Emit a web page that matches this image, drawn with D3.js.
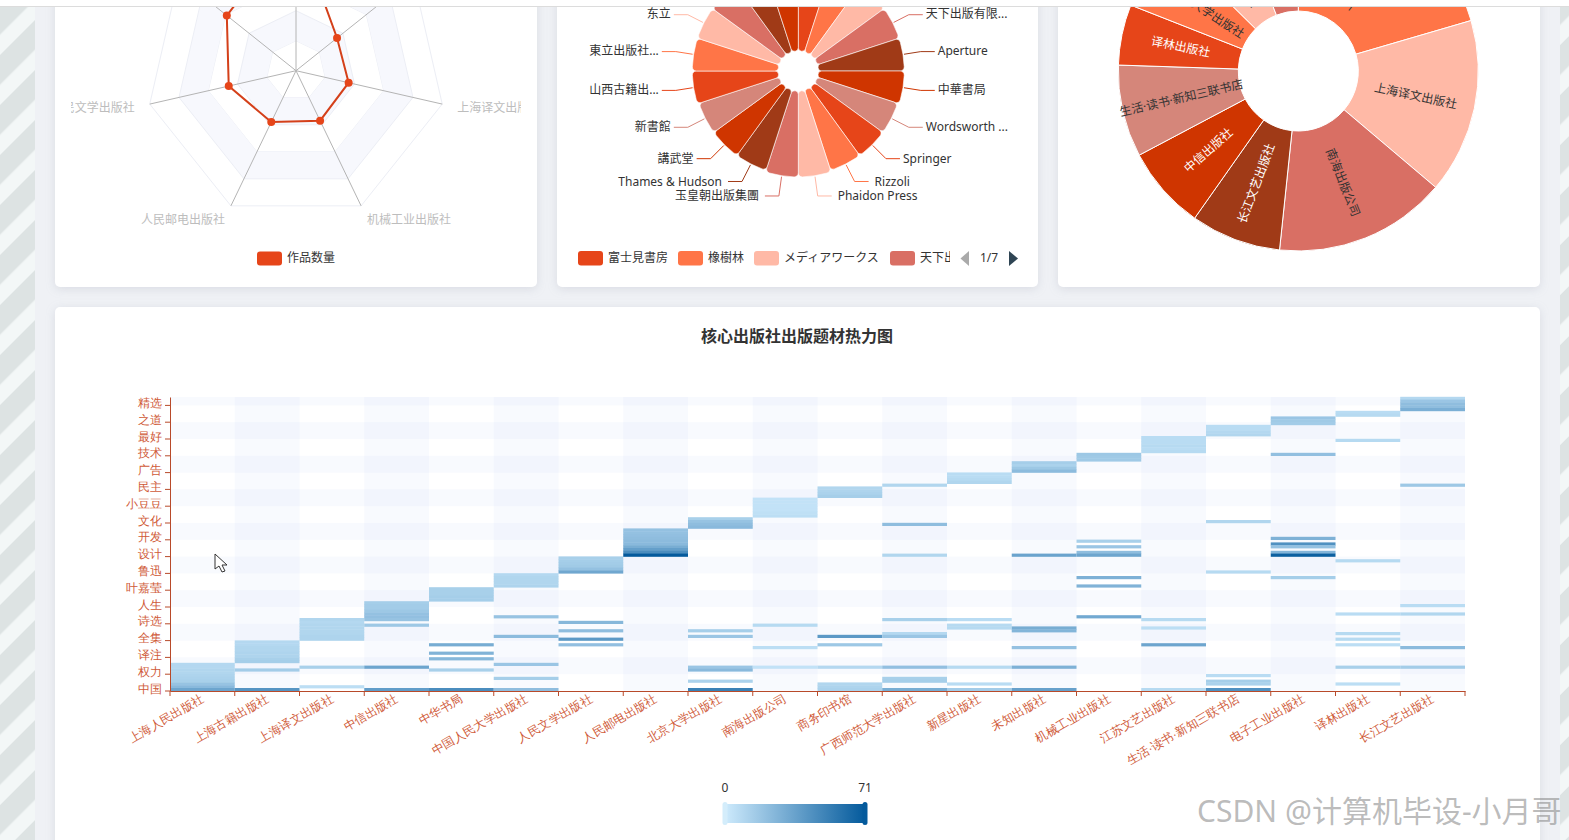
<!DOCTYPE html>
<html>
<head>
<meta charset="utf-8">
<script src="https://cdn.jsdelivr.net/npm/d3@7"></script>
<style>
    html, body { margin: 0; padding: 0; background: #eff1f5; overflow: hidden; }
    svg { display: block; font-family: "Noto Sans", "Noto Sans CJK SC", sans-serif; }
    .card { fill: #fff; filter: drop-shadow(0 2px 5px rgba(120, 130, 150, 0.18)); }
</style>
</head>
<body>
<svg id="page" width="1569" height="840"></svg>
<script>
'use strict';

// radar
const radarNames = ['', '', '上海译文出版社', '机械工业出版社', '人民邮电出版社', '人民文学出版社', ''];
const radarValues = [97, 35, 36, 37, 38, 46, 59];

// rose (nightingale) pie
const roseNames = ['', '', '', '天下出版有限...', 'Aperture', '中華書局', 'Wordsworth ...', 'Springer', 'Rizzoli',
    'Phaidon Press', '玉皇朝出版集團', 'Thames & Hudson', '講武堂', '新書館', '山西古籍出...', '東立出版社...', '东立', '', '', ''];
const roseValues = [53, 53, 53, 53, 53, 53, 52, 52, 52, 53, 53, 52, 52, 52, 53, 53, 53, 53, 53, 53];
const roseLegend = ['富士見書房', '橡樹林', 'メディアワークス', '天下出版有限公司'];

// donut
const pieNames = ['上海人民出版社', '上海译文出版社', '南海出版公司', '长江文艺出版社', '中信出版社',
    '生活·读书·新知三联书店', '译林出版社', '中国人民大学出版社', '上海古籍出版社', '中华书局'];
const pieValues = [369, 283, 279, 146, 135, 149, 98, 116, 120, 107];

const palette = ['#e64519', '#ff7547', '#ffb9a6', '#d96f64', '#a03a17', '#cf3500', '#d5867a'];

// heatmap
const publishers = ['上海人民出版社', '上海古籍出版社', '上海译文出版社', '中信出版社', '中华书局', '中国人民大学出版社',
    '人民文学出版社', '人民邮电出版社', '北京大学出版社', '南海出版公司', '商务印书馆', '广西师范大学出版社', '新星出版社',
    '未知出版社', '机械工业出版社', '江苏文艺出版社', '生活·读书·新知三联书店', '电子工业出版社', '译林出版社', '长江文艺出版社'];
const topicLabels = ['中国', '权力', '译注', '全集', '诗选', '人生', '叶嘉莹', '鲁迅', '设计', '开发', '文化', '小豆豆',
    '民主', '广告', '技术', '最好', '之道', '精选'];
const topicCount = 105;
const labelEvery = 6;
const heatMax = 71;

// [topic row, count] for each publisher
const shanghaiRenmin = [[9, 9], [8, 9], [7, 10], [6, 10], [5, 11], [4, 12], [3, 13], [2, 19], [1, 24], [0, 34]];
const shanghaiGuji = [[17, 9], [16, 9], [15, 10], [14, 10], [13, 11], [12, 11], [11, 13], [10, 14], [7, 15], [0, 42]];
const shanghaiYiwen = [[25, 10], [24, 9], [23, 10], [22, 10], [21, 10], [20, 10], [19, 11], [18, 11], [8, 13], [1, 6]];
const zhongxin = [[31, 14], [30, 15], [29, 15], [28, 17], [27, 20], [26, 21], [25, 19], [23, 17], [8, 34], [0, 38]];
const zhonghua = [[36, 13], [35, 13], [34, 13], [33, 14], [32, 14], [16, 30], [13, 27], [11, 25], [7, 13], [0, 46]];
const renda = [[41, 9], [40, 10], [39, 10], [38, 10], [37, 11], [26, 19], [19, 23], [9, 18], [4, 14], [0, 22]];
const renwen = [[47, 13], [46, 14], [45, 15], [44, 16], [43, 20], [42, 33], [24, 25], [21, 22], [18, 40], [16, 21]];
const youdian = [[57, 20], [56, 20], [55, 21], [54, 22], [53, 23], [52, 24], [51, 30], [50, 37], [49, 46], [48, 71]];
const beida = [[61, 13], [60, 19], [59, 22], [58, 24], [21, 14], [19, 18], [8, 18], [7, 24], [3, 12], [0, 52]];
const nanhai = [[68, 4], [67, 4], [66, 4], [65, 4], [64, 4], [63, 5], [62, 6], [23, 8], [15, 6], [8, 4]];
const shangwu = [[72, 10], [71, 11], [70, 12], [69, 14], [19, 40], [16, 17], [8, 9], [2, 10], [1, 11], [0, 12]];
const guangxi = [[73, 10], [59, 22], [48, 10], [25, 13], [20, 9], [19, 18], [8, 21], [4, 13], [3, 14], [0, 30]];
const xinxing = [[77, 7], [76, 7], [75, 8], [74, 10], [25, 7], [23, 8], [22, 8], [8, 8], [2, 7], [0, 15]];
const weizhi = [[81, 14], [80, 12], [79, 17], [78, 23], [48, 35], [22, 30], [21, 26], [15, 20], [8, 28], [0, 36]];
const jixie = [[84, 17], [83, 16], [82, 16], [53, 13], [51, 18], [49, 22], [48, 34], [40, 28], [37, 27], [26, 32]];
const jiangsu = [[90, 7], [89, 7], [88, 7], [87, 8], [86, 7], [85, 8], [25, 8], [22, 6], [16, 34], [0, 8]];
const sanlian = [[94, 7], [93, 7], [92, 9], [91, 10], [60, 10], [42, 8], [5, 7], [3, 14], [2, 12], [0, 44]];
const dianzi = [[97, 18], [96, 16], [95, 15], [84, 21], [54, 28], [52, 44], [51, 20], [49, 26], [48, 68], [40, 14]];
const yilin = [[99, 7], [98, 8], [89, 8], [46, 8], [27, 7], [20, 8], [18, 8], [16, 6], [8, 13], [2, 6]];
const changjiang = [[104, 9], [103, 18], [102, 22], [101, 22], [100, 29], [73, 17], [30, 7], [27, 10], [15, 23], [8, 15]];
const heatSeries = [shanghaiRenmin, shanghaiGuji, shanghaiYiwen, zhongxin, zhonghua, renda, renwen, youdian, beida, nanhai,
    shangwu, guangxi, xinxing, weizhi, jixie, jiangsu, sanlian, dianzi, yilin, changjiang];

const svg = d3.select('#page');
const axisColor = '#b84a2a';
const labelColor = '#cf5a38';

drawPage();
drawRadar();
drawRose();
drawDonut();
drawHeatmap();
drawOverlay();

function drawPage() {
    const defs = svg.append('defs');
    const stripes = defs.append('pattern')
        .attr('id', 'stripes')
        .attr('patternUnits', 'userSpaceOnUse')
        .attr('width', 35.36)
        .attr('height', 35.36)
        .attr('patternTransform', 'translate(0 5) rotate(-45)');
    stripes.append('rect').attr('width', 35.36).attr('height', 35.36).attr('fill', '#f3f7f7');
    stripes.append('rect').attr('width', 35.36).attr('height', 21).attr('fill', '#dde3e3');

    svg.append('rect').attr('width', 35).attr('height', 840).attr('fill', 'url(#stripes)');
    svg.append('rect').attr('x', 1560).attr('width', 9).attr('height', 840).attr('fill', 'url(#stripes)');

    const cards = [[55, -40, 482, 327], [557, -40, 481, 327], [1058, -40, 482, 327], [55, 307, 1485, 560]];
    svg.selectAll('rect.card')
        .data(cards)
        .join('rect')
        .attr('class', 'card')
        .attr('x', d => d[0])
        .attr('y', d => d[1])
        .attr('width', d => d[2])
        .attr('height', d => d[3])
        .attr('rx', 5);
}

function drawRadar() {
    const center = [296, 70.7];
    const outer = 150;
    const splits = 5;
    const g = svg.append('g').attr('transform', `translate(${center})`);
    const angle = i => i * 2 * Math.PI / radarNames.length;
    const radius = d3.scaleLinear().domain([0, 100]).range([0, outer]);

    const ring = r => d3.lineRadial()
        .angle((d, i) => angle(i))
        .radius(r)
        .curve(d3.curveLinearClosed)(radarNames);

    d3.range(splits).forEach(i => {
        const inner = outer * i / splits;
        const out = outer * (i + 1) / splits;
        if (i % 2 === 1) {
            g.append('path')
                .attr('d', ring(out) + ring(inner))
                .attr('fill', '#f7f8fd')
                .attr('fill-rule', 'evenodd');
        }
        g.append('path')
            .attr('d', ring(out))
            .attr('fill', 'none')
            .attr('stroke', '#eceef5');
    });

    radarNames.forEach((name, i) => {
        const end = d3.pointRadial(angle(i), outer);
        g.append('line')
            .attr('x2', end[0])
            .attr('y2', end[1])
            .attr('stroke', '#b4b4b4');
    });

    const line = d3.lineRadial()
        .angle((d, i) => angle(i))
        .radius(d => radius(d))
        .curve(d3.curveLinearClosed);

    g.append('path')
        .attr('d', line(radarValues))
        .attr('fill', 'none')
        .attr('stroke', '#d4401a')
        .attr('stroke-width', 2);

    g.selectAll('circle')
        .data(radarValues)
        .join('circle')
        .attr('cx', (d, i) => d3.pointRadial(angle(i), radius(d))[0])
        .attr('cy', (d, i) => d3.pointRadial(angle(i), radius(d))[1])
        .attr('r', 4)
        .attr('fill', '#e64519');

    // the axis names are cut at 64px wide by the chart
    svg.select('defs').append('clipPath')
        .attr('id', 'radar-names')
        .append('rect')
        .attr('x', 71)
        .attr('y', 0)
        .attr('width', 450)
        .attr('height', 240);

    const names = svg.append('g').attr('clip-path', 'url(#radar-names)');
    radarNames.forEach((name, i) => {
        if (!name) return;
        const end = d3.pointRadial(angle(i), outer);
        const right = end[0] > 0;
        const low = i === 3 || i === 4;
        names.append('text')
            .attr('x', center[0] + end[0] + (low ? (right ? 6 : -6) : (right ? 15 : -15)))
            .attr('y', center[1] + end[1] + (low ? 14 : 4))
            .attr('dy', '0.35em')
            .attr('text-anchor', right ? 'start' : 'end')
            .attr('font-size', 12)
            .attr('fill', '#bdbdbd')
            .text(name);
    });

    svg.append('rect')
        .attr('x', 257).attr('y', 251.5)
        .attr('width', 25).attr('height', 14).attr('rx', 3)
        .attr('fill', '#e64519');
    svg.append('text')
        .attr('x', 287).attr('y', 257.5)
        .attr('dy', '0.35em')
        .attr('font-size', 12)
        .attr('fill', '#333')
        .text('作品数量');
}

function drawRose() {
    const center = [798.3, 71];
    const g = svg.append('g').attr('transform', `translate(${center})`);
    const radius = d3.scaleLinear().domain([0, 53]).range([20, 106]);
    const slices = d3.pie().sort(null).value(() => 1)(roseValues);
    const arc = d3.arc()
        .innerRadius(20)
        .outerRadius(d => radius(d.data))
        .cornerRadius(4);

    g.selectAll('path.slice')
        .data(slices)
        .join('path')
        .attr('class', 'slice')
        .attr('d', arc)
        .attr('fill', (d, i) => palette[i % palette.length])
        .attr('stroke', '#fff')
        .attr('stroke-width', 0.6);

    slices.forEach((d, i) => {
        if (!roseNames[i]) return;
        const mid = (d.startAngle + d.endAngle) / 2;
        const from = d3.pointRadial(mid, radius(d.data) + 1);
        const elbow = d3.pointRadial(mid, 124);
        const side = elbow[0] > 0 ? 1 : -1;
        // the two labels at the very bottom get pushed down a little
        const bottomShift = Math.abs(elbow[0]) < 30 ? 2.5 : 0;
        // labels in the lower half sit closer to their line, and the bottom ones further out
        const textY = elbow[1] + bottomShift - (elbow[1] > 40 ? 0 : 1);
        const textX = elbow[0] + side * (Math.abs(elbow[0]) < 60 ? 20 : 17);
        const y = elbow[1] + bottomShift;
        g.append('path')
            .attr('d', d3.line()([from, [elbow[0], y], [elbow[0] + side * 14, y]]))
            .attr('fill', 'none')
            .attr('stroke', palette[i % palette.length]);
        g.append('text')
            .attr('x', textX)
            .attr('y', textY)
            .attr('dy', '0.35em')
            .attr('text-anchor', side > 0 ? 'start' : 'end')
            .attr('font-size', 12)
            .attr('fill', '#333')
            .text(roseNames[i]);
    });

    // legend, clipped by its scroll area
    svg.select('defs').append('clipPath')
        .attr('id', 'rose-legend')
        .append('rect')
        .attr('x', 570)
        .attr('y', 240)
        .attr('width', 380)
        .attr('height', 40);

    const legendX = [578, 678, 754, 890];
    const legend = svg.append('g').attr('clip-path', 'url(#rose-legend)');
    roseLegend.forEach((name, i) => {
        legend.append('rect')
            .attr('x', legendX[i]).attr('y', 251)
            .attr('width', 25).attr('height', 14.5).attr('rx', 3)
            .attr('fill', palette[i % palette.length]);
        legend.append('text')
            .attr('x', legendX[i] + 30).attr('y', 257.5)
            .attr('dy', '0.35em')
            .attr('font-size', 12)
            .attr('fill', '#333')
            .text(name);
    });

    svg.append('path').attr('d', 'M969,251 L969,266 L960.5,258.5 Z').attr('fill', '#aaa');
    svg.append('text')
        .attr('x', 989).attr('y', 257.5)
        .attr('dy', '0.35em')
        .attr('text-anchor', 'middle')
        .attr('font-size', 12)
        .attr('fill', '#333')
        .text('1/7');
    svg.append('path').attr('d', 'M1009,251 L1009,266 L1018,258.5 Z').attr('fill', '#2f4554');
}

function drawDonut() {
    const center = [1298.3, 71];
    const g = svg.append('g').attr('transform', `translate(${center})`);
    const arc = d3.arc().innerRadius(60).outerRadius(180);
    const slices = d3.pie().sort(null).value(d => d)(pieValues);
    const colorAt = i => palette[(i + 1) % palette.length];
    const darkSlice = ['#e64519', '#a03a17', '#cf3500'];

    g.selectAll('path')
        .data(slices)
        .join('path')
        .attr('d', arc)
        .attr('fill', (d, i) => colorAt(i))
        .attr('stroke', '#fff')
        .attr('stroke-width', 1);

    g.selectAll('text')
        .data(slices)
        .join('text')
        .attr('transform', d => {
            const mid = (d.startAngle + d.endAngle) / 2;
            const deg = mid * 180 / Math.PI;
            const at = d3.pointRadial(mid, 120);
            const turn = deg < 180 ? deg - 90 : deg - 270;
            return `translate(${at}) rotate(${turn})`;
        })
        .attr('dy', '0.35em')
        .attr('text-anchor', 'middle')
        .attr('font-size', 12)
        .attr('fill', (d, i) => darkSlice.includes(colorAt(i)) ? '#fff' : '#333')
        .text((d, i) => pieNames[i]);
}

function drawHeatmap() {
    const left = 170;
    const right = 1465;
    const top = 397;
    const bottom = 691;

    svg.append('text')
        .attr('x', 797).attr('y', 336)
        .attr('dy', '0.35em')
        .attr('text-anchor', 'middle')
        .attr('font-size', 16)
        .attr('font-weight', 'bold')
        .attr('fill', '#333')
        .text('核心出版社出版题材热力图');

    const x = d3.scaleBand().domain(publishers).range([left, right]);
    const y = d3.scaleBand().domain(d3.range(topicCount)).range([bottom, top]);
    const color = d3.scaleLinear().domain([0, heatMax]).range(['#cdeafc', '#045a9c']);
    const labelRows = topicLabels.map((d, i) => i * labelEvery);

    // split areas
    publishers.forEach((name, i) => {
        if (i % 2 === 0) return;
        svg.append('rect')
            .attr('x', x(name)).attr('y', top)
            .attr('width', x.bandwidth()).attr('height', bottom - top)
            .attr('fill', 'rgba(205, 220, 245, 0.15)');
    });
    labelRows.forEach((row, i) => {
        if (i % 2 === 0) return;
        const rowTop = row + labelEvery - 1 < topicCount ? y(row + labelEvery - 1) : top;
        svg.append('rect')
            .attr('x', left).attr('y', rowTop)
            .attr('width', right - left).attr('height', y(row) + y.bandwidth() - rowTop)
            .attr('fill', 'rgba(205, 220, 245, 0.15)');
    });

    const cells = heatSeries.flatMap((list, i) => list.map(d => ({
        publisher: publishers[i],
        row: d[0],
        value: d[1]
    })));

    // cells run slightly into the next row so no seam shows between them
    svg.append('g')
        .selectAll('rect')
        .data(cells)
        .join('rect')
        .attr('x', d => x(d.publisher))
        .attr('y', d => y(d.row) - 0.2)
        .attr('width', x.bandwidth())
        .attr('height', y.bandwidth() + 0.4)
        .attr('fill', d => color(d.value));

    // axes: ticks sit on the band edges, labels in the band centre
    const xAxis = svg.append('g')
        .attr('transform', `translate(0,${bottom})`)
        .call(d3.axisBottom(x).tickSize(0).tickPadding(8));
    xAxis.select('.domain').attr('stroke', axisColor);
    xAxis.selectAll('text')
        .attr('font-family', null)
        .attr('font-size', 12)
        .attr('fill', labelColor)
        .attr('text-anchor', 'end')
        .attr('transform', 'rotate(-30)')
        .attr('dx', '-3px')
        .attr('dy', '1.7px');

    svg.append('g')
        .selectAll('line')
        .data(d3.range(publishers.length + 1))
        .join('line')
        .attr('x1', d => left + d * x.step())
        .attr('x2', d => left + d * x.step())
        .attr('y1', bottom)
        .attr('y2', bottom + 5)
        .attr('stroke', axisColor);

    const yAxis = svg.append('g')
        .attr('transform', `translate(${left},0)`)
        .call(d3.axisLeft(y)
            .tickValues(labelRows)
            .tickFormat((d, i) => topicLabels[i])
            .tickSize(0)
            .tickPadding(8));
    yAxis.select('.domain').attr('stroke', axisColor);
    yAxis.selectAll('text')
        .attr('font-family', null)
        .attr('font-size', 12)
        .attr('fill', labelColor)
        .attr('dy', '0.25em');

    svg.append('g')
        .selectAll('line')
        .data(labelRows)
        .join('line')
        .attr('x1', left - 5)
        .attr('x2', left)
        .attr('y1', d => y(d) + y.bandwidth())
        .attr('y2', d => y(d) + y.bandwidth())
        .attr('stroke', axisColor);

    drawHeatLegend(color);
}

function drawHeatLegend(color) {
    const gradient = svg.select('defs').append('linearGradient').attr('id', 'heat-legend');
    gradient.append('stop').attr('offset', '0%').attr('stop-color', color(0));
    gradient.append('stop').attr('offset', '100%').attr('stop-color', color(heatMax));

    const scale = d3.scaleLinear().domain([0, heatMax]).range([725, 865]);

    svg.append('rect')
        .attr('x', scale(0)).attr('y', 804)
        .attr('width', scale(heatMax) - scale(0)).attr('height', 19)
        .attr('fill', 'url(#heat-legend)');

    [0, heatMax].forEach(value => {
        svg.append('rect')
            .attr('x', scale(value) - 2.5).attr('y', 802)
            .attr('width', 5).attr('height', 23).attr('rx', 2.5)
            .attr('fill', value === 0 ? '#d4edfb' : '#045a9c');
        svg.append('text')
            .attr('x', scale(value)).attr('y', 788)
            .attr('dy', '0.35em')
            .attr('text-anchor', 'middle')
            .attr('font-size', 12)
            .attr('fill', '#333')
            .text(value);
    });
}

function drawOverlay() {
    // mouse pointer caught in the screenshot
    svg.append('path')
        .attr('d', 'M215,554 L215,569 L219,566 L222,572 L225,571 L222,565 L227,565 Z')
        .attr('fill', '#fff')
        .attr('stroke', '#333');

    svg.append('text')
        .attr('x', 1197).attr('y', 811)
        .attr('dy', '0.35em')
        .attr('font-size', 30)
        .attr('fill', 'rgba(130, 130, 130, 0.55)')
        .text('CSDN @计算机毕设-小月哥');

    // top bar of the page, charts scroll under it
    svg.append('rect').attr('width', 1569).attr('height', 6).attr('fill', '#fff');
    svg.append('line')
        .attr('x2', 1569).attr('y1', 6.5).attr('y2', 6.5)
        .attr('stroke', '#dcdcdc');
}
</script>
</body>
</html>
